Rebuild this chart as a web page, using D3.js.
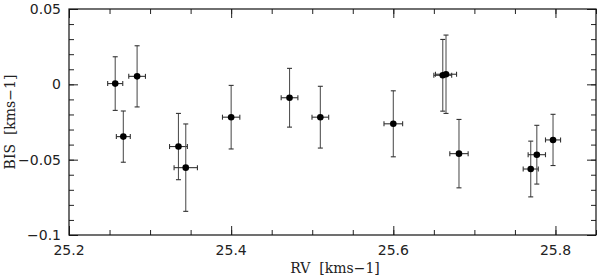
<!DOCTYPE html>
<html>
<head>
<meta charset="utf-8">
<script src="https://cdn.jsdelivr.net/npm/d3@7"></script>
<style>
	body { margin: 0; background: #fff; }
	svg { display: block; }
	.title { white-space: pre; }
</style>
</head>
<body>
<div id="chart"></div>
<script>
	////////////////////////////////////////////////////////////
	////////////////////////// Data ////////////////////////////
	////////////////////////////////////////////////////////////

	var rv      = [25.257, 25.284, 25.267, 25.335, 25.344, 25.400, 25.472, 25.510, 25.600, 25.661, 25.665, 25.681, 25.7695, 25.777, 25.797];
	var rvErr   = [0.0093, 0.0103, 0.0086, 0.0110, 0.0144, 0.0107, 0.0103, 0.0103, 0.0115, 0.0110, 0.0130, 0.0113, 0.0093, 0.0107, 0.0093];
	var bis     = [0.0005, 0.0053, -0.0347, -0.0413, -0.0553, -0.0218, -0.0089, -0.0218, -0.0262, 0.0060, 0.0067, -0.0460, -0.0562, -0.0467, -0.0369];
	var bisErr  = [0.0178, 0.0203, 0.0170, 0.0220, 0.0290, 0.0211, 0.0195, 0.0205, 0.0219, 0.0238, 0.0260, 0.0227, 0.0185, 0.0195, 0.0170];

	var xMajor = [25.2, 25.4, 25.6, 25.8];
	var yMajor = [-0.1, -0.05, 0, 0.05];

	////////////////////////////////////////////////////////////
	///////////////////////// Setup ////////////////////////////
	////////////////////////////////////////////////////////////

	var width = 600, height = 278;
	var margin = {left: 69, top: 9, right: 4, bottom: 43};
	var w = width - margin.left - margin.right,
		h = height - margin.top - margin.bottom;

	var svg = d3.select("#chart").append("svg")
		.attr("width", width)
		.attr("height", height);

	var g = svg.append("g").attr("transform", "translate(" + margin.left + "," + margin.top + ")");

	var x = d3.scaleLinear().domain([25.2, 25.85]).range([0, w]);
	var y = d3.scaleLinear().domain([-0.1, 0.05]).range([h, 0]);

	var xMinor = d3.range(25.2, 25.851, 0.05).map(function(d) { return +d.toFixed(2); });
	var yMinor = d3.range(-0.1, 0.0501, 0.01).map(function(d) { return +d.toFixed(2); });

	var fmt = function(d) { return d === 0 ? "0" : String(d).replace("-", "\u2212"); };

	//Ticks on all four sides, pointing inward
	function tickAxis(axisFn, scale, vals, size) {
		return axisFn(scale).tickValues(vals).tickSize(size).tickFormat("");
	}

	g.append("g").attr("transform", "translate(0," + h + ")")
		.call(tickAxis(d3.axisTop, x, xMinor, 5));
	g.append("g").attr("transform", "translate(0," + h + ")")
		.call(tickAxis(d3.axisTop, x, xMajor, 9));
	g.append("g")
		.call(tickAxis(d3.axisBottom, x, xMinor, 5));
	g.append("g")
		.call(tickAxis(d3.axisBottom, x, xMajor, 9));
	g.append("g")
		.call(tickAxis(d3.axisRight, y, yMinor, 5));
	g.append("g")
		.call(tickAxis(d3.axisRight, y, yMajor, 9));
	g.append("g").attr("transform", "translate(" + w + ",0)")
		.call(tickAxis(d3.axisLeft, y, yMinor, 5));
	g.append("g").attr("transform", "translate(" + w + ",0)")
		.call(tickAxis(d3.axisLeft, y, yMajor, 9));

	g.selectAll(".domain").remove();
	g.selectAll(".tick line").attr("stroke", "#222").attr("stroke-width", 1);

	//Frame
	g.append("rect")
		.attr("width", w).attr("height", h)
		.attr("fill", "none")
		.attr("stroke", "#111")
		.attr("stroke-width", 1.2);

	//Tick labels
	g.selectAll(".xlab").data(xMajor).enter().append("text")
		.attr("x", function(d) { return x(d); })
		.attr("y", h + 20)
		.style("text-anchor", "middle")
		.style("font-family", "DejaVu Sans, sans-serif")
		.style("font-size", "14px")
		.attr("fill", "#222")
		.text(function(d) { return d.toFixed(1); });

	g.selectAll(".ylab").data(yMajor).enter().append("text")
		.attr("x", -8)
		.attr("y", function(d) { return y(d); })
		.attr("dy", "0.36em")
		.style("text-anchor", "end")
		.style("font-family", "DejaVu Sans, sans-serif")
		.style("font-size", "14px")
		.attr("fill", "#222")
		.text(fmt);

	//Axis titles
	svg.append("text")
		.attr("class", "title")
		.attr("x", 335)
		.attr("y", 273)
		.style("text-anchor", "middle")
		.style("font-family", "DejaVu Serif, serif")
		.style("font-size", "14px")
		.attr("fill", "#222")
		.text("RV  [kms\u22121]");

	svg.append("text")
		.attr("class", "title")
		.attr("transform", "translate(15,122) rotate(-90)")
		.style("text-anchor", "middle")
		.style("font-family", "DejaVu Serif, serif")
		.style("font-size", "14px")
		.attr("fill", "#222")
		.text("BIS  [kms\u22121]");

	////////////////////////////////////////////////////////////
	////////////////////// Error bars //////////////////////////
	////////////////////////////////////////////////////////////

	var pts = rv.map(function(d, i) { return {rv: d, rvErr: rvErr[i], bis: bis[i], bisErr: bisErr[i]}; });
	var cap = 2.5;

	var eb = g.append("g").attr("stroke", "#333").attr("stroke-width", 1.1);

	pts.forEach(function(p) {
		var cx = x(p.rv), cy = y(p.bis),
			y0 = y(p.bis - p.bisErr), y1 = y(p.bis + p.bisErr),
			x0 = x(p.rv - p.rvErr), x1 = x(p.rv + p.rvErr);
		//vertical
		eb.append("line").attr("x1", cx).attr("x2", cx).attr("y1", y0).attr("y2", y1).attr("stroke", "#555");
		eb.append("line").attr("x1", cx - cap).attr("x2", cx + cap).attr("y1", y0).attr("y2", y0);
		eb.append("line").attr("x1", cx - cap).attr("x2", cx + cap).attr("y1", y1).attr("y2", y1);
		//horizontal
		eb.append("line").attr("x1", x0).attr("x2", x1).attr("y1", cy).attr("y2", cy);
		eb.append("line").attr("x1", x0).attr("x2", x0).attr("y1", cy - cap).attr("y2", cy + cap);
		eb.append("line").attr("x1", x1).attr("x2", x1).attr("y1", cy - cap).attr("y2", cy + cap);
	});

	g.selectAll(".dot").data(pts).enter().append("circle")
		.attr("cx", function(d) { return x(d.rv); })
		.attr("cy", function(d) { return y(d.bis); })
		.attr("r", 3.3)
		.attr("fill", "#000");
</script>
</body>
</html>
